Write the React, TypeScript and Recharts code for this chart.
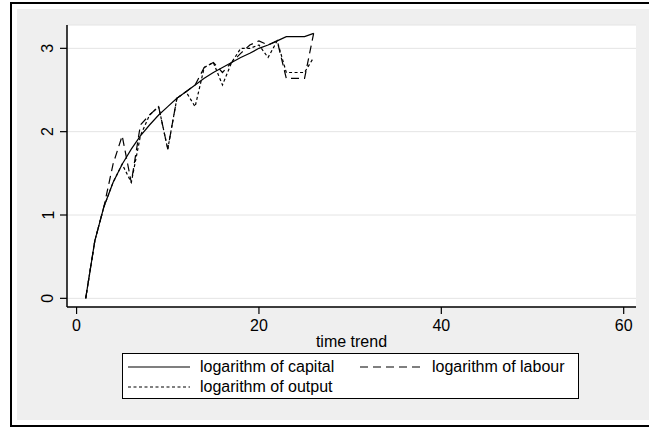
import React from "react";
import { CartesianGrid, Legend, Line, LineChart, XAxis, YAxis } from "recharts";

const timeTrend = [1, 2, 3, 4, 5, 6, 7, 8, 9, 10, 11, 12, 13, 14, 15, 16, 17, 18, 19, 20, 21, 22, 23, 24, 25, 26];
const capital = [0, 0.69, 1.1, 1.39, 1.61, 1.79, 1.95, 2.08, 2.2, 2.3, 2.4, 2.48, 2.56, 2.64, 2.71, 2.77, 2.83, 2.89, 2.94, 3.0, 3.04, 3.09, 3.14, 3.14, 3.14, 3.18];
const labour = [0, 0.69, 1.1, 1.61, 1.95, 1.39, 2.08, 2.2, 2.3, 1.79, 2.4, 2.48, 2.56, 2.77, 2.83, 2.71, 2.83, 2.94, 3.04, 3.09, 3.04, 3.09, 2.64, 2.64, 2.64, 3.18];
const output = [0, 0.69, 1.1, 1.39, 1.61, 1.39, 1.95, 2.2, 2.3, 1.79, 2.4, 2.48, 2.3, 2.77, 2.83, 2.56, 2.83, 3.0, 3.0, 3.04, 2.89, 3.09, 2.71, 2.71, 2.71, 2.89];

const xTicks = [0, 20, 40, 60];
const yTicks = [0, 1, 2, 3];

const series = [
  { key: "capital", name: "logarithm of capital", dash: undefined },
  { key: "labour", name: "logarithm of labour", dash: "8 5" },
  { key: "output", name: "logarithm of output", dash: "3 2.5" },
];

const rows = timeTrend.map((t, i) => ({ t, capital: capital[i], labour: labour[i], output: output[i] }));

const FONT = '"Liberation Sans", Arial, sans-serif';

function YTick(p: any) {
  const x = p.x - 4.5;
  return (
    <text x={x} y={p.y} transform={`rotate(-90 ${x} ${p.y})`} textAnchor="middle" fontSize={16} fill="#000" fontFamily={FONT}>
      {p.payload.value}
    </text>
  );
}

function LegendBox() {
  const item = (s: (typeof series)[number], left: number, top: number) => (
    <div key={s.key} style={{ position: "absolute", left, top, height: 20, display: "flex", alignItems: "center" }}>
      <svg width={62} height={4} style={{ marginRight: 10 }}>
        <line x1={0} y1={2} x2={62} y2={2} stroke="#000" strokeWidth={1.1} strokeDasharray={s.dash} />
      </svg>
      <span style={{ fontSize: 16, color: "#000", whiteSpace: "nowrap" }}>{s.name}</span>
    </div>
  );
  return (
    <div style={{ position: "relative", width: 457, height: 46, boxSizing: "border-box", border: "1.3px solid #000", background: "#fff", fontFamily: FONT }}>
      {item(series[0], 5, 3)}
      {item(series[1], 237, 3)}
      {item(series[2], 5, 23)}
    </div>
  );
}

export default function App() {
  return (
    <div style={{ position: "absolute", left: 0, top: 0, width: 649, height: 428, overflow: "hidden", background: "#fff", fontFamily: FONT }}>
      <div style={{ position: "absolute", left: 10, top: 2, width: 660, height: 425, boxSizing: "border-box", border: "2px solid #000" }} />
      <div style={{ position: "absolute", left: 17, top: 9, width: 632, height: 411, background: "#efefef" }} />
      <div style={{ position: "absolute", left: 0, top: 0 }}>
        <LineChart width={649} height={428} data={rows} margin={{ top: 25, right: 13, bottom: 81, left: 7 }}>
          <CartesianGrid vertical={false} stroke="#e4e4e4" fill="#fff" />
          <XAxis
            dataKey="t"
            type="number"
            domain={[-1.05, 61.35]}
            allowDataOverflow
            ticks={xTicks}
            height={40}
            tickSize={7}
            tickMargin={6}
            axisLine={{ stroke: "#000", strokeWidth: 1.5 }}
            tickLine={{ stroke: "#000", strokeWidth: 1.2 }}
            tick={{ fill: "#000", fontSize: 16, fontFamily: FONT }}
            label={{ value: "time trend", position: "insideBottom", offset: 0, fill: "#000", fontSize: 16, fontFamily: FONT }}
          />
          <YAxis
            type="number"
            domain={[-0.104, 3.28]}
            allowDataOverflow
            ticks={yTicks}
            width={60}
            tickSize={7}
            axisLine={{ stroke: "#000", strokeWidth: 1.5 }}
            tickLine={{ stroke: "#000", strokeWidth: 1.2 }}
            tick={<YTick />}
          />
          {series.map((s) => (
            <Line
              key={s.key}
              dataKey={s.key}
              name={s.name}
              type="linear"
              stroke="#000"
              strokeWidth={1.2}
              strokeDasharray={s.dash}
              dot={false}
              activeDot={false}
              isAnimationActive={false}
            />
          ))}
          <Legend
            layout="horizontal"
            verticalAlign="middle"
            align="center"
            content={() => <LegendBox />}
            wrapperStyle={{ left: 122, top: 353, width: 457, height: 46 }}
          />
        </LineChart>
      </div>
    </div>
  );
}
